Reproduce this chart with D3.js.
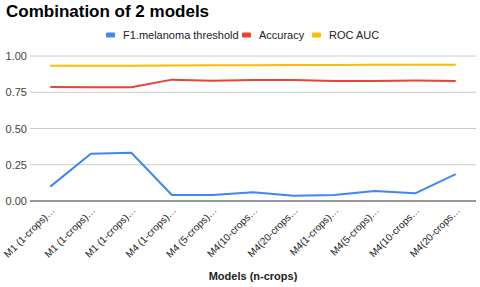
<!DOCTYPE html>
<html>
<head>
<meta charset="utf-8">
<script src="https://cdn.jsdelivr.net/npm/d3@7"></script>
<style>
  body { margin: 0; background: #fff; }
  text { font-family: Arial, "Liberation Sans", sans-serif; }
</style>
</head>
<body>
<svg id="chart"></svg>
<script>
// data
var models = ["M1 (1-crops)…", "M1 (1-crops)…", "M1 (1-crops)…", "M4 (1-crops)…", "M4 (5-crops)…",
  "M4(10-crops…", "M4(20-crops…", "M4(1-crops)…", "M4(5-crops)…", "M4(10-crops…", "M4(20-crops…"]
var f1 = [0.099, 0.326, 0.333, 0.041, 0.041, 0.060, 0.037, 0.041, 0.069, 0.053, 0.186]
var accuracy = [0.786, 0.784, 0.784, 0.837, 0.830, 0.834, 0.834, 0.828, 0.828, 0.831, 0.828]
var rocAuc = [0.933, 0.933, 0.933, 0.935, 0.936, 0.937, 0.938, 0.938, 0.939, 0.940, 0.940]
var yTicks = [0, 0.25, 0.5, 0.75, 1]

var width = 480
var height = 287
var svg = d3.select("#chart").attr("width", width).attr("height", height)

var series = [
  {name: "F1.melanoma threshold", values: f1, color: "#4285f4"},
  {name: "Accuracy", values: accuracy, color: "#ea4335"},
  {name: "ROC AUC", values: rocAuc, color: "#fbbc04"}
]

var x = d3.scalePoint().domain(d3.range(models.length)).range([30, 476]).padding(0.5)
var y = d3.scaleLinear().domain([0, 1]).range([201, 56])

//title
svg.append("text").attr("x", 6).attr("y", 17)
  .style("font-size", "17px").style("font-weight", "bold").attr("fill", "#000")
  .text("Combination of 2 models")

//legend
var legendX = [106, 242, 312]
var leg = svg.append("g").selectAll("g").data(series).enter().append("g")
  .attr("transform", (d, i) => "translate(" + legendX[i] + ",35)")
leg.append("rect").attr("x", 0).attr("y", -2.5).attr("width", 9).attr("height", 5).attr("rx", 1)
  .attr("fill", d => d.color)
leg.append("text").attr("x", 17).attr("y", 4)
  .style("font-size", "11px").attr("fill", "#222").text(d => d.name)

//grid + y labels
var grid = svg.append("g").selectAll("g").data(yTicks).enter().append("g")
grid.append("line").attr("x1", 30).attr("x2", 476)
  .attr("y1", d => y(d)).attr("y2", d => y(d))
  .attr("stroke", d => d == 0 ? "#333" : "#ccc")
  .attr("stroke-width", 1)
grid.append("text").attr("x", 27).attr("y", d => y(d) + 4).attr("text-anchor", "end")
  .style("font-size", "11px").attr("fill", "#444").text(d => d3.format(".2f")(d))

//lines
var line = d3.line().x((d, i) => x(i)).y(d => y(d))
svg.append("g").selectAll("path").data(series.slice().reverse()).enter().append("path")
  .attr("d", d => line(d.values))
  .attr("fill", "none").attr("stroke", d => d.color).attr("stroke-width", 2)
  .attr("stroke-linejoin", "round")

//x labels
svg.append("g").selectAll("text").data(models).enter().append("text")
  .attr("transform", (d, i) => "translate(" + (x(i) + 5) + ",211) rotate(-45)")
  .attr("text-anchor", "end")
  .style("font-size", "10px").attr("fill", "#222").text(d => d)

//x title
svg.append("text").attr("x", 253).attr("y", 280).attr("text-anchor", "middle")
  .style("font-size", "11px").style("font-weight", "bold").attr("fill", "#222")
  .text("Models (n-crops)")
</script>
</body>
</html>
